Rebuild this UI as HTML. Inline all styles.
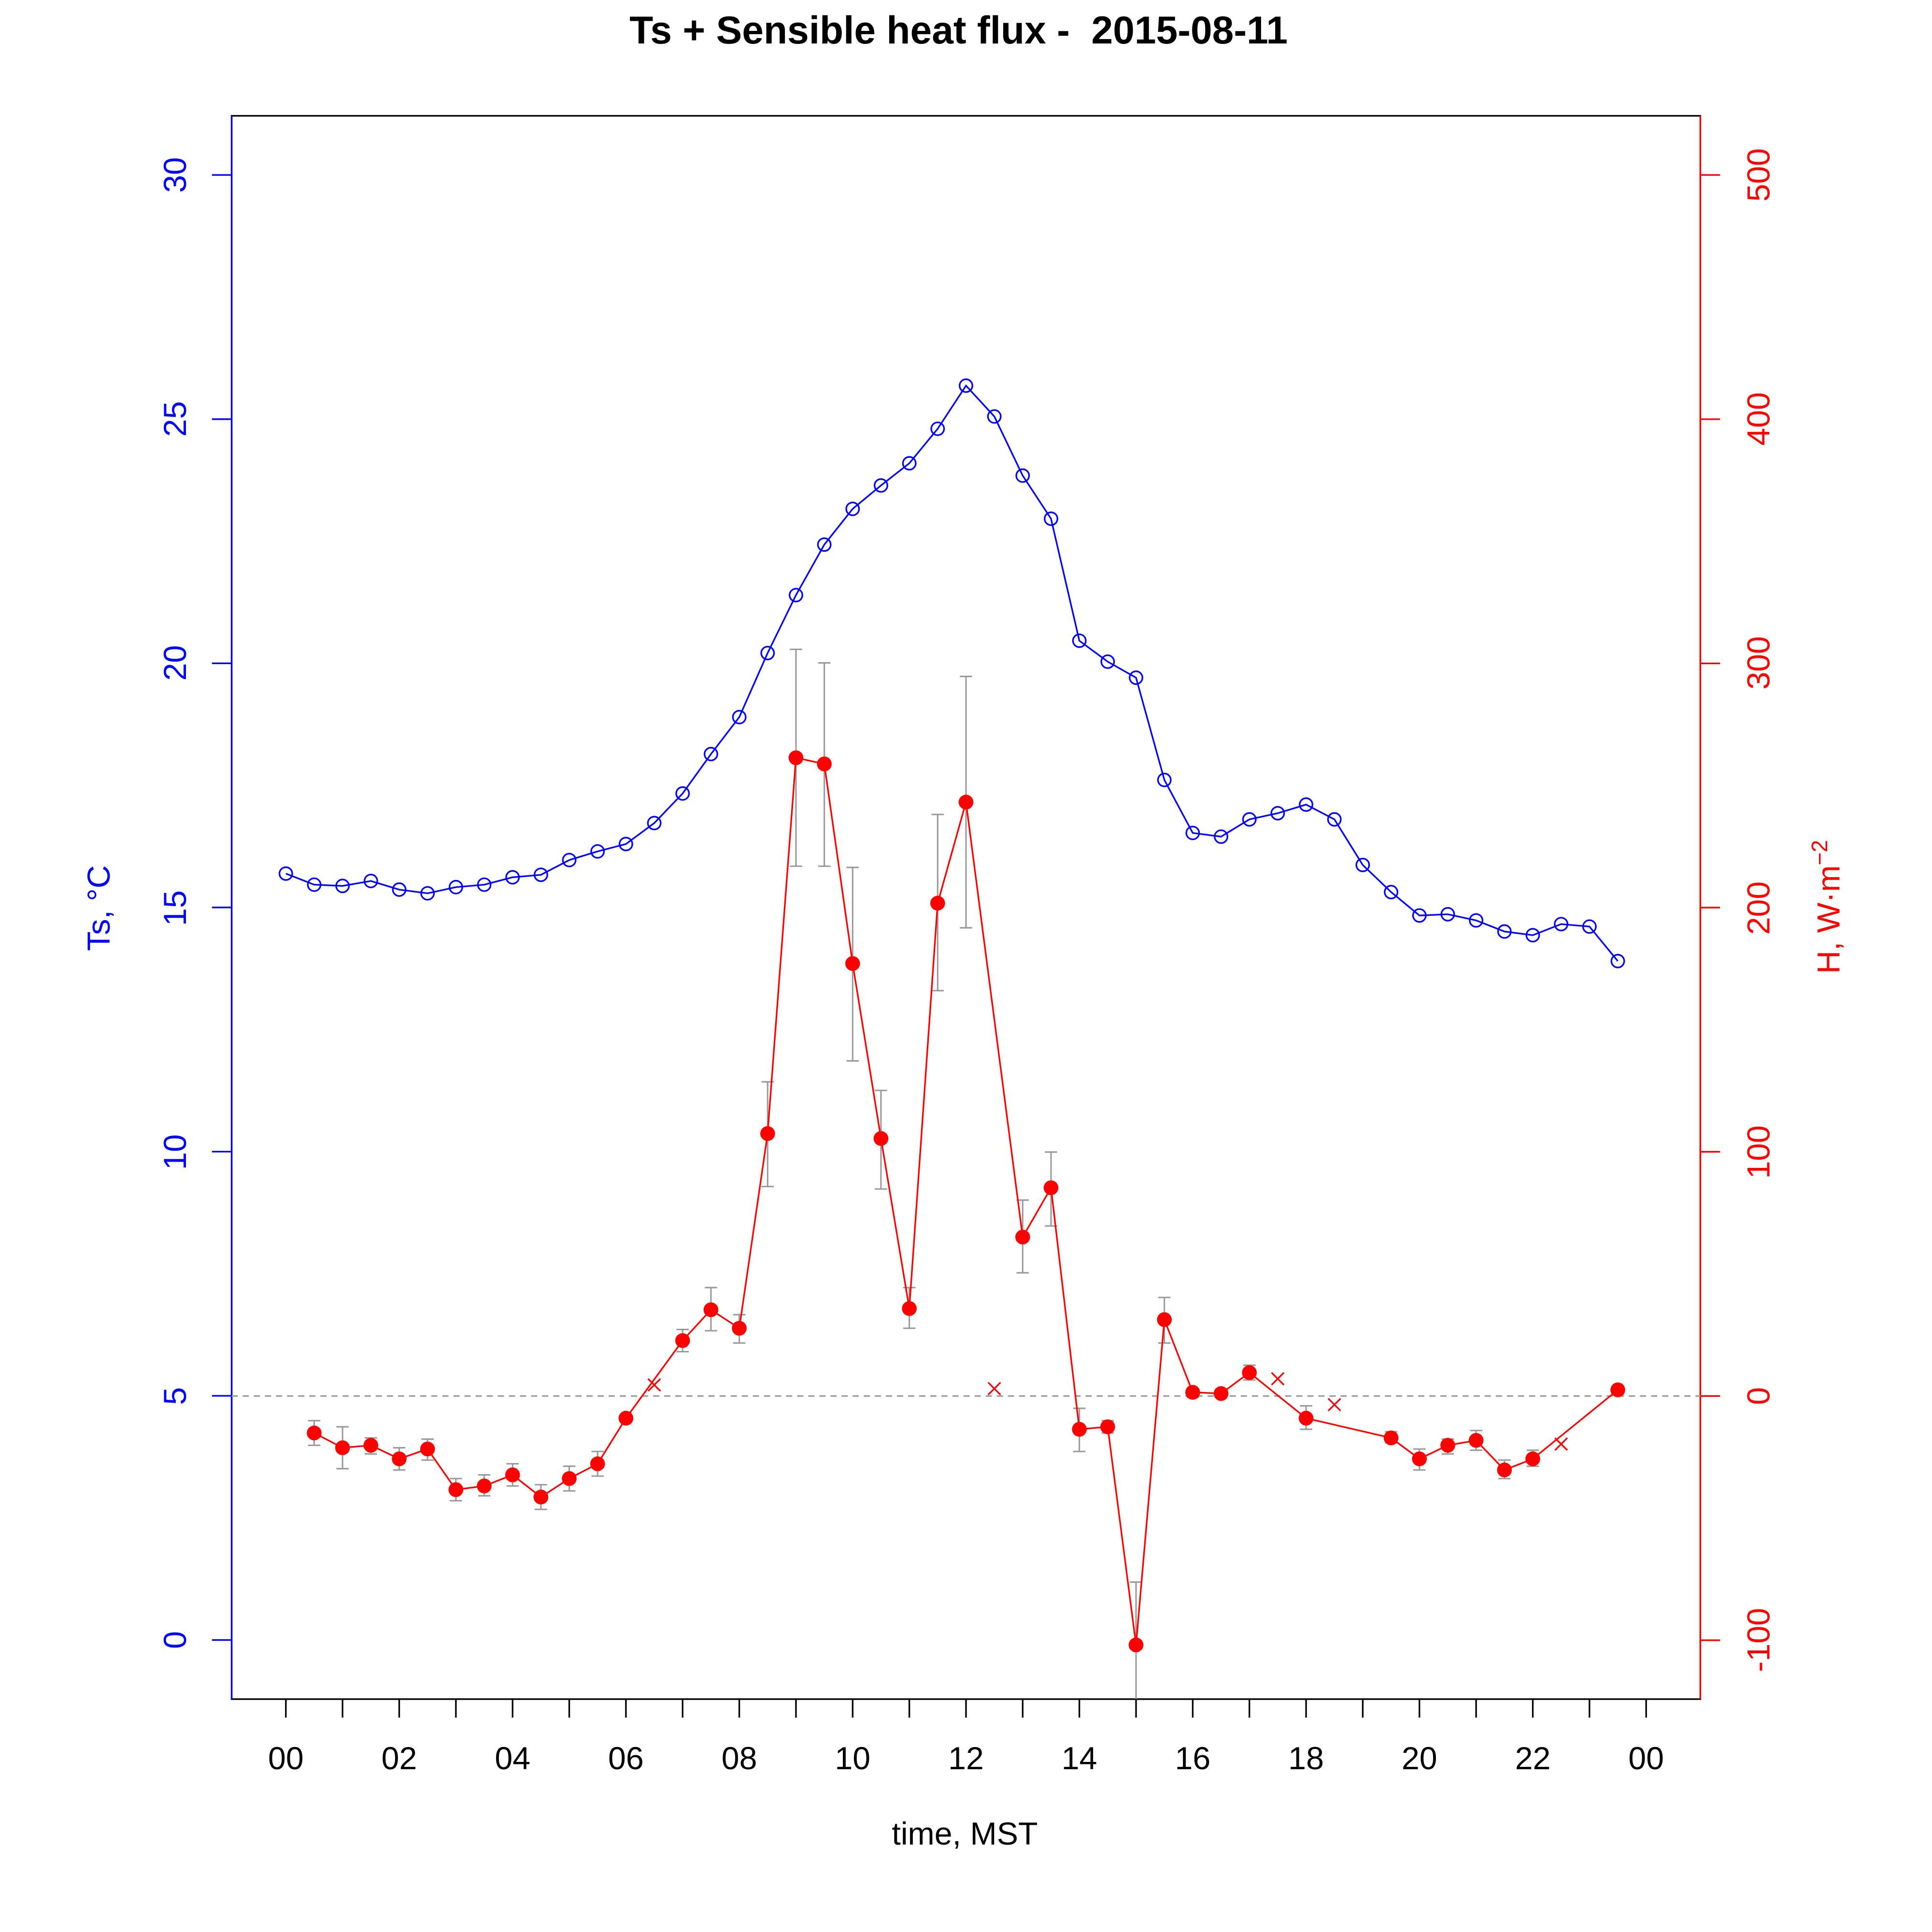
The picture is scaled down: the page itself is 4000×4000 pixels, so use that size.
<!DOCTYPE html>
<html><head><meta charset="utf-8"><style>
html,body{margin:0;padding:0;background:#fff}
svg{display:block}
text{font-family:"Liberation Sans",Arial,sans-serif}
</style></head><body>
<svg id="s" xmlns="http://www.w3.org/2000/svg" width="4000" height="4000" viewBox="0 0 1568 1568">
<rect width="1568" height="1568" fill="#fff"/>
<text x="778" y="35.3" font-size="31.5" font-weight="bold" text-anchor="middle" xml:space="preserve">Ts + Sensible heat flux -  2015-08-11</text>
<rect x="188" y="94" width="1192" height="1285" fill="none" stroke="#000" stroke-width="1.3"/>
<line x1="188" y1="94" x2="188" y2="1379" stroke="blue" stroke-width="1.3"/>
<line x1="1380" y1="94" x2="1380" y2="1379" stroke="red" stroke-width="1.3"/>
<g id="g"></g>
<g fill="blue" font-size="26" text-anchor="middle">
<text transform="translate(151,1331) rotate(-90)">0</text>
<text transform="translate(151,1133) rotate(-90)">5</text>
<text transform="translate(151,935) rotate(-90)">10</text>
<text transform="translate(151,737) rotate(-90)">15</text>
<text transform="translate(151,538) rotate(-90)">20</text>
<text transform="translate(151,340) rotate(-90)">25</text>
<text transform="translate(151,142) rotate(-90)">30</text>
<text transform="translate(89,737) rotate(-90)">Ts, °C</text>
</g>
<g fill="red" font-size="26" text-anchor="middle">
<text transform="translate(1436,1331) rotate(-90)">-100</text>
<text transform="translate(1436,1133) rotate(-90)">0</text>
<text transform="translate(1436,935) rotate(-90)">100</text>
<text transform="translate(1436,737) rotate(-90)">200</text>
<text transform="translate(1436,538) rotate(-90)">300</text>
<text transform="translate(1436,340) rotate(-90)">400</text>
<text transform="translate(1436,142) rotate(-90)">500</text>
<text transform="translate(1493,736) rotate(-90)">H, W·m<tspan font-size="18" dy="-10">−2</tspan></text>
</g>
<g font-size="26" text-anchor="middle">
<text x="232" y="1436">00</text><text x="324" y="1436">02</text><text x="416" y="1436">04</text>
<text x="508" y="1436">06</text><text x="600" y="1436">08</text><text x="692" y="1436">10</text>
<text x="784" y="1436">12</text><text x="876" y="1436">14</text><text x="968" y="1436">16</text>
<text x="1060" y="1436">18</text><text x="1152" y="1436">20</text><text x="1244" y="1436">22</text>
<text x="1336" y="1436">00</text>
<text x="783" y="1497">time, MST</text>
</g>
</svg>
<script>
var g=document.getElementById('g'),h='';
for(var i=0;i<=24;i++){var x=232+46*i;h+='<line x1="'+x+'" y1="1379" x2="'+x+'" y2="1394" stroke="#000" stroke-width="1.3"/>';}
for(var v=0;v<=30;v+=5){var y=1331-v*39.633;h+='<line x1="188" y1="'+y+'" x2="172" y2="'+y+'" stroke="blue" stroke-width="1.3"/>';}
for(var v=-100;v<=500;v+=100){var y=1133-v*1.982;h+='<line x1="1380" y1="'+y+'" x2="1396" y2="'+y+'" stroke="red" stroke-width="1.3"/>';}
h+='<line x1="188" y1="1133" x2="1380" y2="1133" stroke="#999" stroke-width="1.2" stroke-dasharray="5,4"/>';
var eb=[[255,1153,1173],[278,1158,1192],[301,1167,1180],[324,1175,1193],[347,1168,1185],[370,1200,1218],[393,1197,1214],[416,1188,1206],[439,1205,1225],[462,1190,1210],[485,1178,1198],[508,1149,1154],[554,1079,1097],[577,1045,1080],[600,1067,1090],[623,878,963],[646,527,703],[669,538,703],[692,704,861],[715,885,965],[738,1045,1078],[761,661,804],[784,549,753],[830,974,1033],[853,935,995],[876,1143,1178],[899,1153,1163],[922,1284,1379],[945,1053,1090],[968,1127,1134],[1014,1108,1120],[1060,1141,1160],[1129,1162,1171],[1152,1176,1193],[1175,1168,1180],[1198,1161,1177],[1221,1185,1200],[1244,1177,1190]];
eb.forEach(function(e){h+='<path d="M'+e[0]+' '+e[1]+'V'+e[2]+'M'+(e[0]-5)+' '+e[1]+'h10'+(e[2]<1379?'M'+(e[0]-5)+' '+e[2]+'h10':'')+'" stroke="#999" stroke-width="1.2" fill="none"/>';});
var ts=[709,718,719,715,722,725,720,718,712,710,698,691,685,668,644,612,582,530,483,442,413,394,376,348,313,338,386,421,520,537,550,633,676,679,665,660,653,665,702,724,743,742,747,756,759,750,752,780];
var p=ts.map(function(y,i){return (232+23*i)+','+y;}).join(' ');
h+='<polyline points="'+p+'" fill="none" stroke="blue" stroke-width="1.3"/>';
ts.forEach(function(y,i){h+='<circle cx="'+(232+23*i)+'" cy="'+y+'" r="5.2" fill="none" stroke="blue" stroke-width="1.3"/>';});
var H=[[255,1163],[278,1175],[301,1173],[324,1184],[347,1176],[370,1209],[393,1206],[416,1197],[439,1215],[462,1200],[485,1188],[508,1151],[554,1088],[577,1063],[600,1078],[623,920],[646,615],[669,620],[692,782],[715,924],[738,1062],[761,733],[784,651],[830,1004],[853,964],[876,1160],[899,1158],[922,1335],[945,1071],[968,1130],[991,1131],[1014,1114],[1060,1151],[1129,1167],[1152,1184],[1175,1173],[1198,1169],[1221,1193],[1244,1184],[1313,1128]];
h+='<polyline points="'+H.map(function(a){return a.join(',');}).join(' ')+'" fill="none" stroke="red" stroke-width="1.3"/>';
H.forEach(function(a){h+='<circle cx="'+a[0]+'" cy="'+a[1]+'" r="6" fill="red"/>';});
[[531,1124],[807,1127],[1037,1119],[1083,1140],[1267,1172]].forEach(function(a){h+='<path d="M'+(a[0]-5)+' '+(a[1]-5)+'l10 10M'+(a[0]-5)+' '+(a[1]+5)+'l10 -10" stroke="red" stroke-width="1.3"/>';});
g.innerHTML=h;
</script>
</body></html>
